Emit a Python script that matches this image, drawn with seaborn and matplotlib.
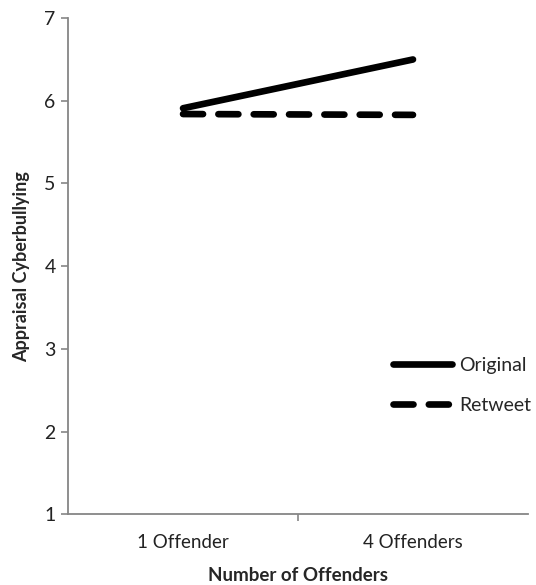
import pandas as pd
import seaborn as sns
import matplotlib.pyplot as plt

# data
categories = ['1 Offender', '4 Offenders']
original = [5.91, 6.50]
retweet = [5.84, 5.83]
series_names = ['Original', 'Retweet']

df = pd.DataFrame({
    'Offenders': categories * 2,
    'Appraisal': original + retweet,
    'Type': [series_names[0]] * 2 + [series_names[1]] * 2,
})

sns.set_style('white')
plt.rcParams['font.family'] = ['Lato', 'DejaVu Sans']

fig = plt.figure(figsize=(5.36, 5.85), dpi=100)
ax = fig.add_axes([0.127, 0.121, 0.858, 0.848])

sns.lineplot(data=df, x='Offenders', y='Appraisal', style='Type',
             dashes={'Original': '', 'Retweet': (3.0, 2.3)},
             color='black', linewidth=4.8, ax=ax, legend=False,
             sort=False)
for ln in ax.lines:
    ln.set_solid_capstyle('round')
    ln.set_dash_capstyle('round')

ax.set_xlim(-0.5, 1.5)
ax.set_ylim(1, 7)
ax.set_yticks(range(1, 8))
ax.set_xticks([0, 1])
ax.set_xticklabels(categories)
ax.set_xticks([0.5], minor=True)

axis_grey = '#868686'
for side in ['top', 'right']:
    ax.spines[side].set_visible(False)
for side in ['left', 'bottom']:
    ax.spines[side].set_color(axis_grey)
    ax.spines[side].set_linewidth(1.3)

ax.tick_params(axis='y', which='major', left=True, length=5, width=1.2,
               color=axis_grey, labelsize=14, pad=4, labelcolor='#222222')
ax.tick_params(axis='x', which='major', bottom=False, labelsize=13.5,
               pad=11, labelcolor='#222222')
ax.tick_params(axis='x', which='minor', bottom=True, length=5, width=1.2,
               color=axis_grey)

ax.set_xlabel('Number of Offenders', fontsize=13.5, fontweight='bold',
              labelpad=11)
ax.set_ylabel('Appraisal Cyberbullying', fontsize=13, fontweight='bold',
              labelpad=10)

# legend built from the drawn lines
handles = ax.lines[:2]
leg = ax.legend(handles, series_names, loc='center left',
                bbox_to_anchor=(0.69, 0.26), frameon=False, fontsize=14,
                handlelength=3.0, handletextpad=0.4, labelspacing=1.2,
                borderaxespad=0)

fig.savefig('out.png', dpi=100)
